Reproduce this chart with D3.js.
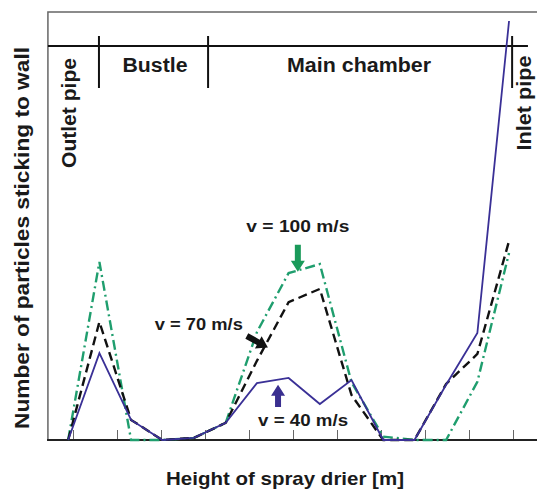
<!DOCTYPE html>
<html>
<head>
<meta charset="utf-8">
<script src="https://cdn.jsdelivr.net/npm/d3@7"></script>
<style>
  body { margin: 0; background: #fff; }
  text { font-family: "Liberation Sans", Arial, sans-serif; font-weight: bold; fill: #1a1a1a; }
</style>
</head>
<body>
<div id="chart"></div>
<script>
const width = 537;
const height = 491;

// positions along drier height (m)
const heights = [-0.11, 0.6, 1.32, 2.03, 2.75, 3.47, 4.18, 4.9, 5.61, 6.33, 7.05, 7.76, 8.48, 9.19, 9.91];
// number of particles sticking to wall (arbitrary units)
const v40 = [0, 20.3, 4.7, 0, 0.5, 4.0, 13.3, 14.5, 8.4, 14.0, 0, 0, 12.9, 25.0, 97.9];
const v70 = [0, 27.6, 4.7, 0, 0.5, 4.0, 18.5, 32.2, 35.3, 10.5, 0, 0, 13.1, 20.1, 46.5];
const v100 = [0, 41.6, 0, 0, 0.5, 4.0, 25.2, 39.0, 41.1, 13.5, 0.8, 0, 0, 13.6, 43.7];

const tickValues = [0, 1, 2, 3, 4, 5, 6, 7, 8, 9, 10];
const sectionNames = ["Outlet pipe", "Bustle", "Main chamber", "Inlet pipe"];
const sectionBounds = [0.59, 3.07, 9.98];

const x = d3.scaleLinear().domain([0, 10]).range([73, 513]);
const y = d3.scaleLinear().domain([0, 100]).range([440, 12]);

const svg = d3.select('#chart').append('svg')
  .attr('width', width)
  .attr('height', height);

// frame (left and top)
svg.append('path')
  .attr('d', `M${x(-0.57)},${y(0)}V${y(100)}H${width}`)
  .attr('fill', 'none')
  .attr('stroke', '#666')
  .attr('stroke-width', 1.5);

// x axis with inward ticks
const xAxis = d3.axisTop(x).tickValues(tickValues).tickSize(10).tickFormat('');
const gx = svg.append('g')
  .attr('transform', `translate(0,${y(0)})`)
  .call(xAxis);
gx.select('.domain').remove();
gx.selectAll('.tick line').attr('stroke', '#666').attr('stroke-width', 1);
svg.append('line')
  .attr('x1', x(-0.59)).attr('x2', width)
  .attr('y1', y(0)).attr('y2', y(0))
  .attr('stroke', '#222').attr('stroke-width', 1.8);

// section divider
const divY = 46;
svg.append('line')
  .attr('x1', x(-0.57)).attr('x2', x(10.34))
  .attr('y1', divY).attr('y2', divY)
  .attr('stroke', '#111').attr('stroke-width', 2);
svg.selectAll('.sep')
  .data(sectionBounds)
  .enter().append('line')
  .attr('x1', d => x(d)).attr('x2', d => x(d))
  .attr('y1', 36).attr('y2', 88)
  .attr('stroke', '#111').attr('stroke-width', 2);

// section labels
svg.append('text')
  .attr('transform', `translate(76,113) rotate(-90)`)
  .attr('text-anchor', 'middle')
  .attr('font-size', 21)
  .attr('textLength', 110).attr('lengthAdjust', 'spacingAndGlyphs')
  .text(sectionNames[0]);
svg.append('text')
  .attr('x', 155).attr('y', 72)
  .attr('text-anchor', 'middle')
  .attr('font-size', 20)
  .attr('textLength', 65).attr('lengthAdjust', 'spacingAndGlyphs')
  .text(sectionNames[1]);
svg.append('text')
  .attr('x', 359).attr('y', 72)
  .attr('text-anchor', 'middle')
  .attr('font-size', 20)
  .attr('textLength', 144).attr('lengthAdjust', 'spacingAndGlyphs')
  .text(sectionNames[2]);
svg.append('text')
  .attr('transform', `translate(531,103) rotate(-90)`)
  .attr('text-anchor', 'middle')
  .attr('font-size', 21)
  .attr('textLength', 95).attr('lengthAdjust', 'spacingAndGlyphs')
  .text(sectionNames[3]);

// axis titles
svg.append('text')
  .attr('transform', `translate(29,238) rotate(-90)`)
  .attr('text-anchor', 'middle')
  .attr('font-size', 20)
  .attr('textLength', 382).attr('lengthAdjust', 'spacingAndGlyphs')
  .text('Number of particles sticking to wall');
svg.append('text')
  .attr('x', 285).attr('y', 485)
  .attr('text-anchor', 'middle')
  .attr('font-size', 19)
  .attr('textLength', 238).attr('lengthAdjust', 'spacingAndGlyphs')
  .text('Height of spray drier [m]');

// series
const line = d3.line()
  .x((d, i) => x(heights[i]))
  .y(d => y(d));

const series = [
  { name: 'v = 100 m/s', values: v100, color: '#1f9e6e', dash: '10,4,2,4', w: 2.4 },
  { name: 'v = 70 m/s', values: v70, color: '#111', dash: '9,5', w: 2.4 },
  { name: 'v = 40 m/s', values: v40, color: '#3a3096', dash: null, w: 1.8 }
];

svg.selectAll('.series')
  .data(series)
  .enter().append('path')
  .attr('class', 'series')
  .attr('d', d => line(d.values))
  .attr('fill', 'none')
  .attr('stroke', d => d.color)
  .attr('stroke-width', d => d.w)
  .attr('stroke-dasharray', d => d.dash);

// annotations: label position and arrow (start -> tip) in data units
const labels = [
  { text: 'v = 100 m/s', lx: 5.11, ly: 48.6, len: 103, from: [5.11, 45.6], to: [5.11, 39.3], color: '#1a9a5a' },
  { text: 'v = 70 m/s', lx: 2.86, ly: 25.7, len: 88, from: [3.95, 24.3], to: [4.43, 21.6], color: '#111' },
  { text: 'v = 40 m/s', lx: 5.23, ly: 3.27, len: 90, from: [4.66, 7.7], to: [4.66, 12.9], color: '#3a2f90' }
];

svg.selectAll('.ann')
  .data(labels)
  .enter().append('text')
  .attr('x', d => x(d.lx)).attr('y', d => y(d.ly))
  .attr('text-anchor', 'middle')
  .attr('font-size', 17)
  .attr('textLength', d => d.len).attr('lengthAdjust', 'spacingAndGlyphs')
  .text(d => d.text);

function arrowPath(d) {
  const x0 = x(d.from[0]), y0 = y(d.from[1]);
  const x1 = x(d.to[0]), y1 = y(d.to[1]);
  const dx = x1 - x0, dy = y1 - y0;
  const len = Math.sqrt(dx * dx + dy * dy);
  const ux = dx / len, uy = dy / len;
  const px = -uy, py = ux;
  const hl = 11, sw = 3, hw = 7;
  const bx = x1 - ux * hl, by = y1 - uy * hl;
  const pts = [
    [x0 + px * sw, y0 + py * sw],
    [bx + px * sw, by + py * sw],
    [bx + px * hw, by + py * hw],
    [x1, y1],
    [bx - px * hw, by - py * hw],
    [bx - px * sw, by - py * sw],
    [x0 - px * sw, y0 - py * sw]
  ];
  return 'M' + pts.map(p => p.join(',')).join('L') + 'Z';
}

svg.selectAll('.arrow')
  .data(labels)
  .enter().append('path')
  .attr('d', arrowPath)
  .attr('fill', d => d.color);
</script>
</body>
</html>
